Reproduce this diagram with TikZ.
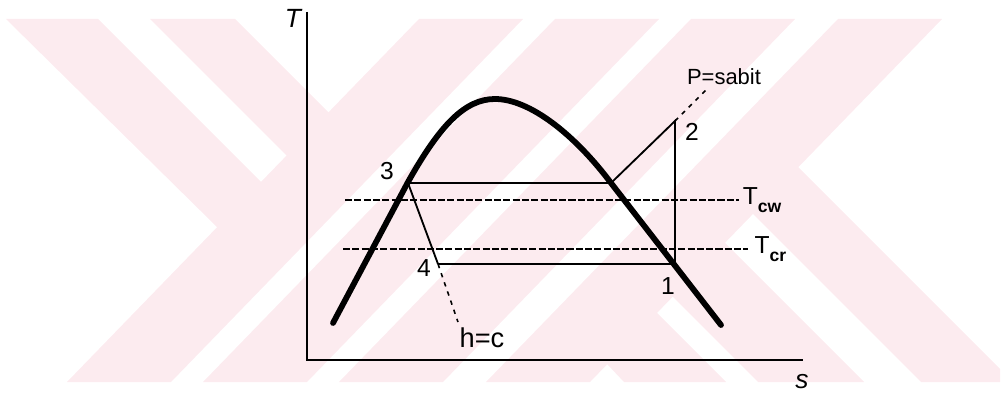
\documentclass[tikz,border=0pt]{standalone}
\usepackage{fontspec}
\setmainfont{Liberation Sans}
\usetikzlibrary{positioning}

\definecolor{wmpink}{RGB}{252,235,239}
\newcommand{\lowsub}[1]{\raisebox{-4.5pt}{\fontsize{10}{10}\selectfont\bfseries #1}}

\tikzset{
  dome/.style={line width=3.3pt, line cap=round, line join=round},
  axis/.style={line width=1.2pt},
  cyc/.style={line width=1.05pt},
  isoT/.style={line width=1.1pt, dash pattern=on 4pt off 1.3pt},
  ext/.style={line width=0.9pt, dash pattern=on 2.5pt off 3pt},
  lab/.style={font=\fontsize{14}{14}\selectfont, inner sep=0pt},
}

\begin{document}
\begin{tikzpicture}[x=0.02cm, y=-0.02cm]
    \useasboundingbox (0,0) rectangle (1003,395);

    % watermark in the back
    \begin{scope}
    \clip (5,19) rectangle (1000,382);
    \foreach \a/\b in {419/67, 555/203, 691/339, 838/486}
        \fill[wmpink] (\a,19) -- ({\a+104},19) -- ({\b+104},382) -- (\b,382) -- cycle;
    \fill[wmpink] (6,19) -- (98,19) -- (280,201) -- (218,228) -- cycle;
    \fill[wmpink] (150,19) -- (235,19) -- (340,124) -- (295,164) -- cycle;
    \fill[wmpink] (624,382) -- (726,382) -- (640,296) -- (590,346) -- cycle;
    \fill[wmpink] (758,382) -- (864,382) -- (710,228) -- (650,274) -- cycle;
    \fill[wmpink] (921,382) -- (1013,382) -- (791,160) -- (739,200) -- cycle;
    \end{scope}

    % axes
    \coordinate (O) at (307,360);
    \coordinate (Ttop) at (307,12);
    \coordinate (send) at (803,360);
    \draw[axis] (Ttop) -- (O) -- (send);
    \node[lab, font=\fontsize{15}{15}\selectfont\itshape] (Tax) at (293,18) {T};
    \node[lab, font=\fontsize{15}{15}\selectfont\itshape] (sax) at (802,382) {s};

    % saturation dome
    \draw[dome] (333,323) -- (408,182) .. controls (440,125) and (465,99) .. (495,99)
        .. controls (530,99) and (575,135) .. (611,183) -- (721,325);

    % cycle points
    \coordinate (p1) at (675,264);
    \coordinate (p2) at (675,121);
    \coordinate (p3) at (408,183);
    \coordinate (p4) at (438,264);
    \coordinate (sv) at (611,183);
    \coordinate (pend) at (708,88);
    \coordinate (hend) at (458,322);

    \draw[cyc] (p4) -- (p1) -- (p2) -- (sv) -- (p3) -- (p4);
    \draw[ext] (p2) -- (pend);
    \draw[ext] (p4) -- (hend);

    % isotherms
    \coordinate (cwA) at (345,200);
    \coordinate (cwB) at (739,200);
    \coordinate (crA) at (343,249);
    \coordinate (crB) at (748,249);
    \draw[isoT] (cwA) -- (cwB);
    \draw[isoT] (crA) -- (crB);
    \node[lab, right=2pt of cwB] (Tcw) {T\lowsub{cw}};
    \node[lab, right=3.5pt of crB] (Tcr) {T\lowsub{cr}};

    % labels
    \node[lab] (l1) at (668,286) {1};
    \node[lab] (l2) at (692,132) {2};
    \node[lab] (l3) at (387,171) {3};
    \node[lab] (l4) at (424,268) {4};
    \node[lab, font=\fontsize{12.5}{12.5}\selectfont] (psabit) at (724,77) {P=sabit};
    \node[lab, font=\fontsize{15.5}{15.5}\selectfont] (hc) at (482,338) {h=c};
\end{tikzpicture}
\end{document}
